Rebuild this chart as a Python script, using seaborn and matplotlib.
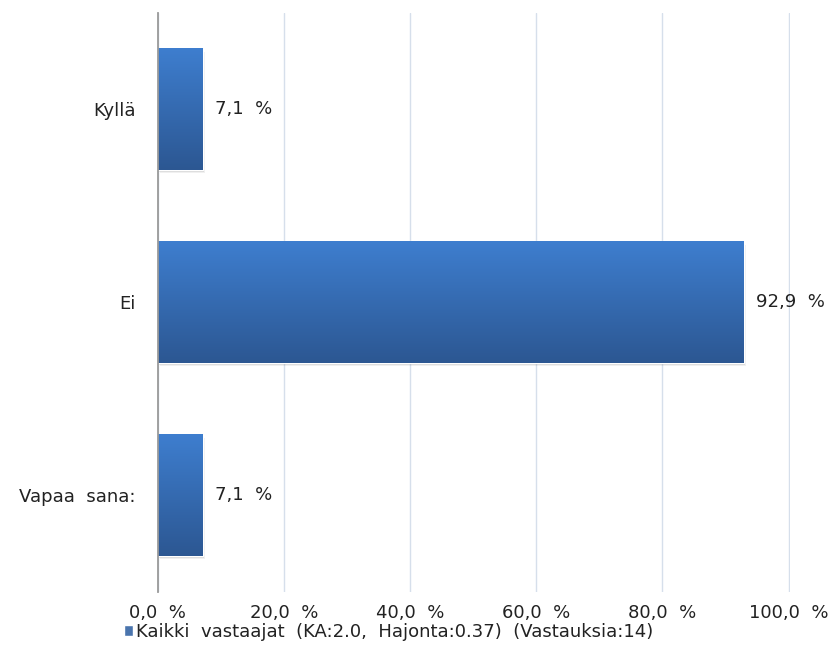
#pystyy pylväskaavio: vastausten jakauma prosentteina
import numpy as np
import pandas as pd
import matplotlib
matplotlib.use('Agg')
import matplotlib.pyplot as plt
import seaborn as sns

#datat
vastaukset = ['Kyllä', 'Ei', 'Vapaa  sana:']
osuudet = [7.1, 92.9, 7.1]
x_ticks = [0, 20, 40, 60, 80, 100]
sarja = 'Kaikki  vastaajat  (KA:2.0,  Hajonta:0.37)  (Vastauksia:14)'

df = pd.DataFrame({'Vastaus': vastaukset, 'Osuus': osuudet})

sns.set_style('white')
plt.rcParams['font.family'] = ['DejaVu Sans']
fs = 13

fig = plt.figure(figsize=(8.31, 6.70), dpi=100)
ax = fig.add_axes([0.190, 0.117, 0.7605, 0.864])

sns.barplot(data=df, x='Osuus', y='Vastaus', orient='h', color='#3a72bd',
            width=0.63, ax=ax, label=sarja, zorder=3)

#liukuväri pylväisiin
grad = np.linspace(0, 1, 256).reshape(-1, 1)
cmap = matplotlib.colors.LinearSegmentedColormap.from_list('g', ['#3e7ecf', '#2c5792'])
for p in ax.patches:
    x0, y0 = p.get_x(), p.get_y()
    w, h = p.get_width(), p.get_height()
    # pehmeä varjo
    for k, a in [(0.6, 0.12), (0.35, 0.2)]:
        ax.add_patch(plt.Rectangle((x0 + k * 0.6, y0 + k * 0.03), w, h,
                                   color='black', alpha=a * 0.5, zorder=2, lw=0))
    im = ax.imshow(grad, extent=(x0, x0 + w, y0, y0 + h), cmap=cmap,
                   aspect='auto', zorder=4, origin='lower')
    im.set_clip_path(p)

for i, v in enumerate(osuudet):
    ax.text(v + 1.9, i, (f'{v:.1f}'.replace('.', ',') + '  %'), va='center',
            ha='left', fontsize=fs, color='#222222', zorder=5)

ax.set_xlim(0, 100.2)
ax.set_ylim(2.5, -0.5)
ax.set_xticks(x_ticks)
ax.set_xticklabels([f'{t:.1f}'.replace('.', ',') + '  %' for t in x_ticks], fontsize=fs)
ax.tick_params(axis='y', labelsize=fs, length=0, pad=16, labelcolor='#222222')
ax.tick_params(axis='x', length=0, pad=9, labelcolor='#222222')
ax.set_xlabel('')
ax.set_ylabel('')
ax.grid(axis='x', color='#d6dfeb', lw=1, zorder=0)
for s in ['top', 'right', 'bottom']:
    ax.spines[s].set_visible(False)
ax.spines['left'].set_color('#9a9a9a')
ax.spines['left'].set_linewidth(1.3)
ax.spines['left'].set_zorder(6)

leg = ax.legend(loc='center left', bbox_to_anchor=(0.149, 0.057),
                bbox_transform=fig.transFigure, frameon=False, fontsize=fs,
                handlelength=0.5, handleheight=0.5, handletextpad=0.15,
                borderpad=0, borderaxespad=0)
for t in leg.get_texts():
    t.set_color('#222222')

fig.savefig('out.png', dpi=100)
